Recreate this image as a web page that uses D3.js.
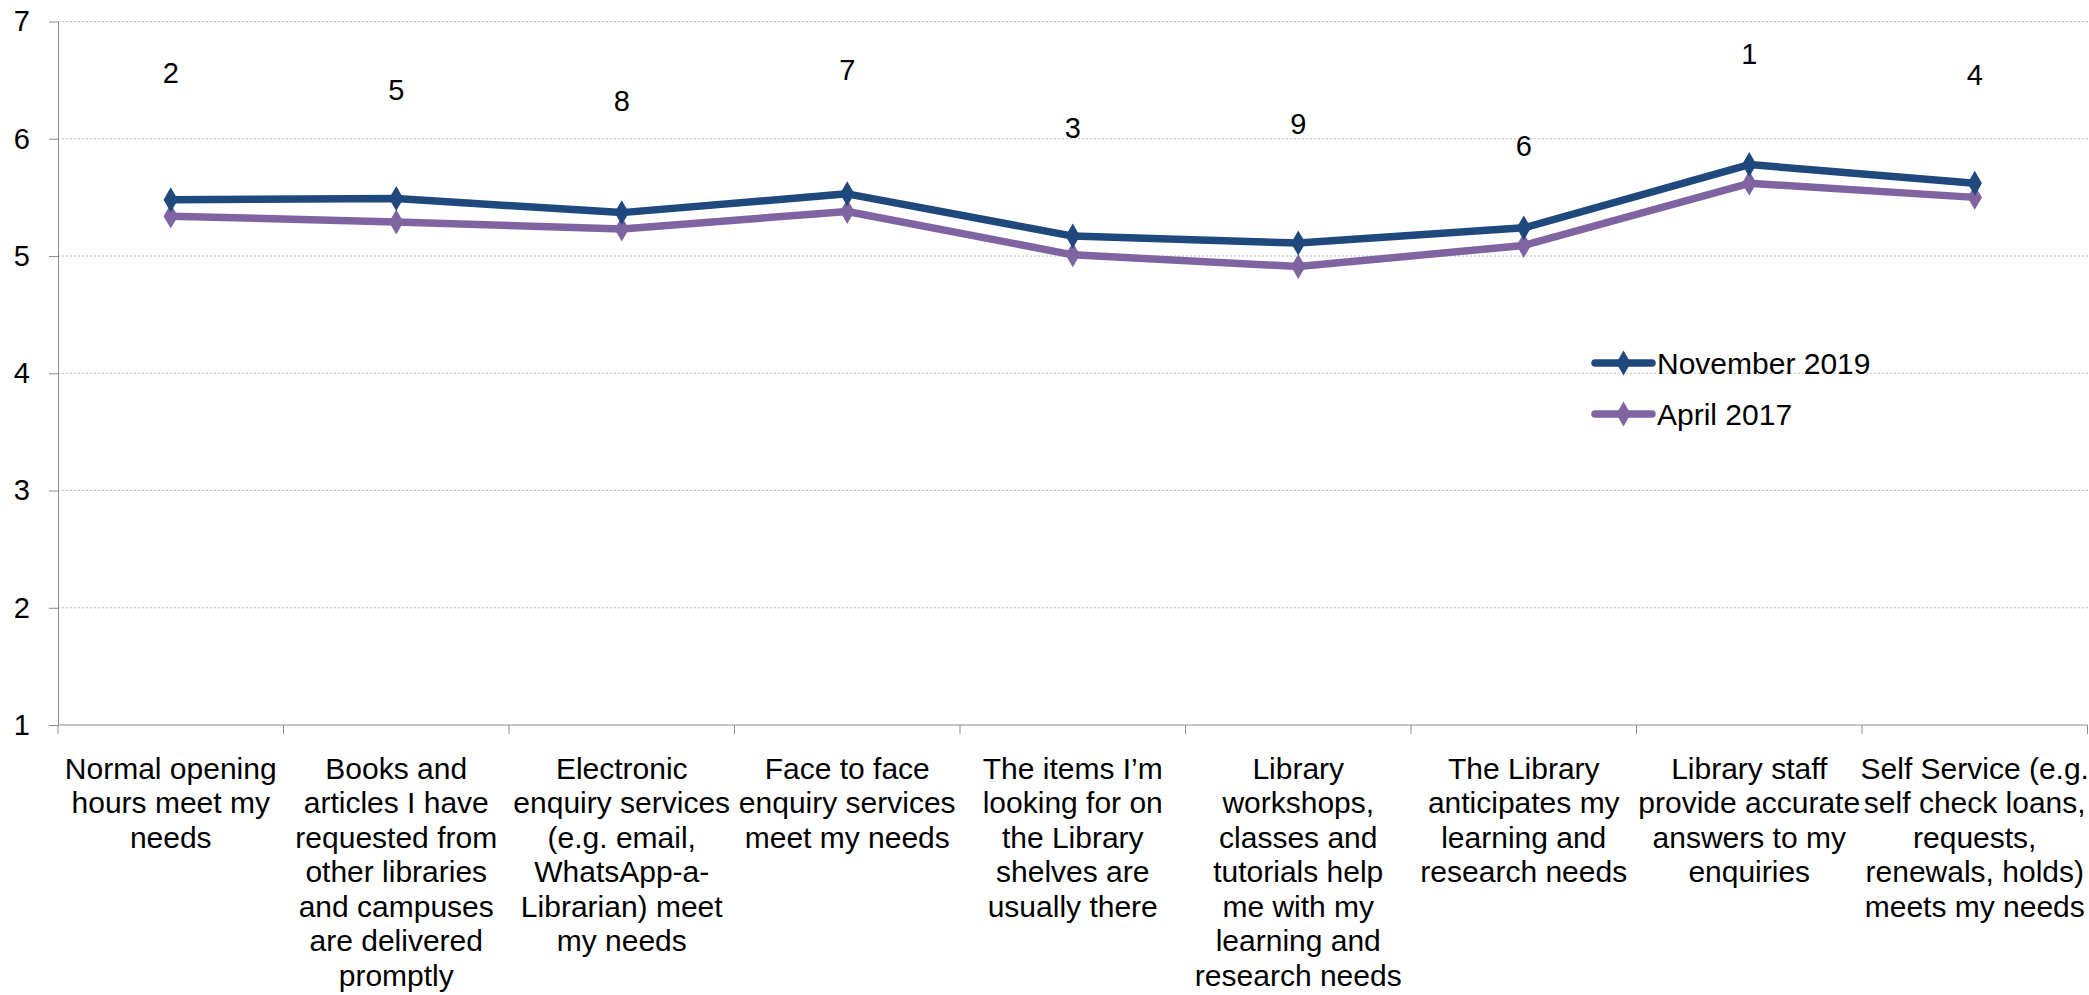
<!DOCTYPE html>
<html>
<head>
<meta charset="utf-8">
<script src="https://cdn.jsdelivr.net/npm/d3@7"></script>
<style>
  body { margin: 0; background: #fff; }
  #chart { width: 2089px; height: 995px; }
  text { font-family: "Liberation Sans", Arial, sans-serif; fill: #000; }
</style>
</head>
<body>
<div id="chart"></div>
<script>
const categories = [
  "Normal opening\nhours meet my\nneeds",
  "Books and\narticles I have\nrequested from\nother libraries\nand campuses\nare delivered\npromptly",
  "Electronic\nenquiry services\n(e.g. email,\nWhatsApp-a-\nLibrarian) meet\nmy needs",
  "Face to face\nenquiry services\nmeet my needs",
  "The items I\u2019m\nlooking for on\nthe Library\nshelves are\nusually there",
  "Library\nworkshops,\nclasses and\ntutorials help\nme with my\nlearning and\nresearch needs",
  "The Library\nanticipates my\nlearning and\nresearch needs",
  "Library staff\nprovide accurate\nanswers to my\nenquiries",
  "Self Service (e.g.\nself check loans,\nrequests,\nrenewals, holds)\nmeets my needs"
];
const nov2019 = [5.48, 5.49, 5.37, 5.53, 5.17, 5.11, 5.24, 5.78, 5.62];
const apr2017 = [5.34, 5.29, 5.23, 5.38, 5.01, 4.91, 5.09, 5.62, 5.50];
// rank labels and where they sit (in axis units)
const ranks = [2, 5, 8, 7, 3, 9, 6, 1, 4];
const rankPos = [6.56, 6.42, 6.32, 6.59, 6.09, 6.13, 5.94, 6.72, 6.54];
const yTicks = [1, 2, 3, 4, 5, 6, 7];
const seriesNames = ["November 2019", "April 2017"];
const seriesColors = ["#1F497D", "#8064A2"];

const width = 2089, height = 995;
const svg = d3.select("#chart").append("svg")
  .attr("width", width)
  .attr("height", height);

const x = d3.scaleBand()
  .domain(categories)
  .range([58, 2087.5])
  .padding(0);

const y = d3.scaleLinear()
  .domain([1, 7])
  .range([725, 21.5]);

// gridlines
svg.append("g")
  .selectAll("line")
  .data(yTicks.filter(d => d > 1))
  .join("line")
  .attr("x1", 58)
  .attr("x2", width)
  .attr("y1", d => y(d))
  .attr("y2", d => y(d))
  .attr("stroke", "#bdbdbd")
  .attr("stroke-width", 1)
  .attr("stroke-dasharray", "2,2");

// y axis
const yAxis = svg.append("g")
  .attr("transform", "translate(58,0)")
  .call(d3.axisLeft(y).tickValues(yTicks).tickFormat(d3.format("d"))
    .tickSize(9).tickPadding(19).tickSizeOuter(0));
yAxis.select(".domain").attr("stroke", "#8c8c8c");
yAxis.selectAll(".tick line").attr("stroke", "#8c8c8c");
yAxis.selectAll(".tick text")
  .style("font-size", "29px")
  .style("font-family", "'Liberation Sans', Arial, sans-serif")
  .attr("fill", "#000");

// x axis line + boundary ticks
const xg = svg.append("g");
xg.append("line")
  .attr("x1", 58).attr("x2", x.range()[1])
  .attr("y1", y(1)).attr("y2", y(1))
  .attr("stroke", "#8c8c8c");
const bounds = categories.map(c => x(c)).concat([x.range()[1]]);
xg.selectAll(".xtick")
  .data(bounds)
  .join("line")
  .attr("x1", d => d).attr("x2", d => d)
  .attr("y1", y(1)).attr("y2", y(1) + 9)
  .attr("stroke", "#8c8c8c");

// category labels
const lineH = 34.5;
xg.selectAll(".xlab")
  .data(categories)
  .join("text")
  .attr("text-anchor", "middle")
  .style("font-size", "30px")
  .each(function (d) {
    const t = d3.select(this);
    d.split("\n").forEach((ln, i) => {
      t.append("tspan")
        .attr("x", x(d) + x.bandwidth() / 2)
        .attr("y", 768 + i * lineH)
        .attr("dominant-baseline", "central")
        .text(ln);
    });
  });

// series
const cx = i => x(categories[i]) + x.bandwidth() / 2;
const diamond = d3.symbol().type(d3.symbolDiamond).size(180);
[apr2017, nov2019].forEach((vals, k) => {
  const col = k === 0 ? seriesColors[1] : seriesColors[0];
  const line = d3.line().x((d, i) => cx(i)).y(d => y(d));
  svg.append("path")
    .datum(vals)
    .attr("fill", "none")
    .attr("stroke", col)
    .attr("stroke-width", 7.5)
    .attr("stroke-linejoin", "round")
    .attr("d", line);
  svg.append("g")
    .selectAll("path")
    .data(vals)
    .join("path")
    .attr("transform", (d, i) => `translate(${cx(i)},${y(d)})`)
    .attr("d", diamond)
    .attr("fill", col);
});

// rank labels
svg.append("g")
  .selectAll("text")
  .data(ranks)
  .join("text")
  .attr("x", (d, i) => cx(i))
  .attr("y", (d, i) => y(rankPos[i]))
  .attr("text-anchor", "middle")
  .attr("dominant-baseline", "central")
  .style("font-size", "29px")
  .text(d => d);

// legend
const legend = svg.append("g").attr("transform", "translate(1595,363)");
seriesNames.forEach((name, i) => {
  const g = legend.append("g").attr("transform", `translate(0,${i * 51})`);
  g.append("line")
    .attr("x1", 0).attr("x2", 57)
    .attr("stroke", seriesColors[i])
    .attr("stroke-width", 7.5)
    .attr("stroke-linecap", "round");
  g.append("path")
    .attr("transform", "translate(28.5,0)")
    .attr("d", diamond)
    .attr("fill", seriesColors[i]);
  g.append("text")
    .attr("x", 62)
    .attr("dominant-baseline", "central")
    .style("font-size", "30px")
    .text(name);
});
</script>
</body>
</html>
